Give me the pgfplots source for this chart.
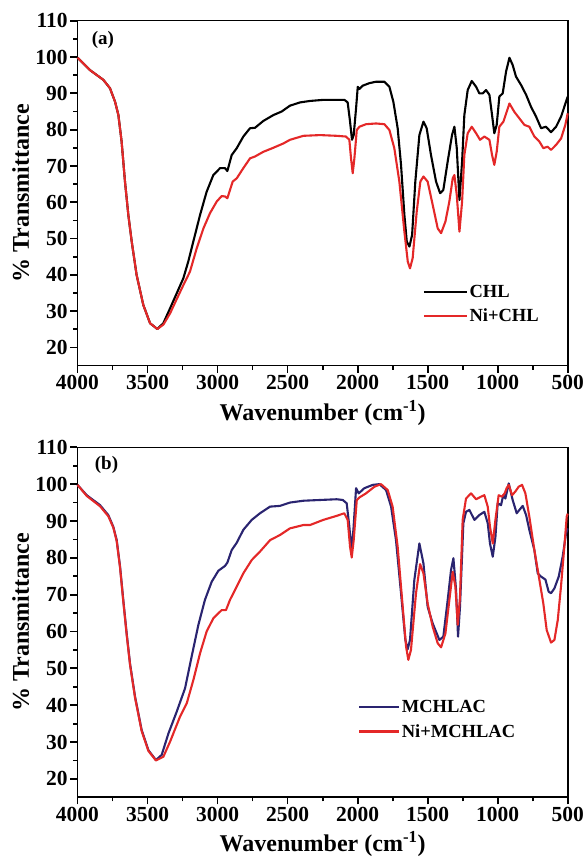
\documentclass[border=0pt]{standalone}
\usepackage{fontspec}
\setmainfont{Liberation Serif}
\usepackage{pgfplots}
\pgfplotsset{compat=1.18}
\definecolor{myred}{RGB}{228,40,40}
\definecolor{myblue}{RGB}{42,36,112}
\pgfplotsset{
  ftir/.style={
    anchor=north west,
    scale only axis,
    width=490.2pt,
    clip=false,
    xmin=-4000, xmax=-500,
    ymin=15, ymax=110,
    xtick={-4000,-3500,...,-500},
    xticklabels={4000,3500,3000,2500,2000,1500,1000,500},
    ytick={20,30,...,110},
    yticklabels={20,30,40,50,60,70,80,90,100,110},
    minor x tick num=1,
    minor y tick num=1,
    tick align=outside,
    xtick pos=bottom,
    ytick pos=left,
    major tick length=7pt,
    minor tick length=4pt,
    every tick/.append style={black, line width=1.8pt},
    every axis/.append style={line width=1.6pt},
    tick label style={font=\bfseries\fontsize{21.5}{21.5}\selectfont, inner sep=2pt},
    label style={font=\bfseries\fontsize{24}{24}\selectfont},
    xlabel style={yshift=-4pt},
    xlabel={Wavenumber (cm\textsuperscript{-1})},
    ylabel={\% Transmittance},
    legend cell align=left,
    legend style={draw=none, fill=none, inner sep=0pt,
      font=\bfseries\fontsize{18.5}{18.5}\selectfont,
      row sep=7pt, anchor=north west,
      nodes={inner sep=1.5pt}},
    every axis plot/.append style={line width=2.1pt, no markers, line join=round},
  }
}
\begin{document}
\begin{tikzpicture}
\begin{axis}[ftir, name=A, at={(0pt,0pt)}, height=345pt,
  legend style={at={(rel axis cs:0.703,0.24)}},
  legend image code/.code={\draw[#1, line width=2.1pt] (0pt,0pt) -- (43pt,0pt);}]
\addplot[black] coordinates {
(-4000,99.8) (-3911,96.4) (-3815,93.7) (-3768,91.4) (-3732,87.7) (-3708,84.0) (-3685,76.7)
(-3661,65.7) (-3637,56.5) (-3613,49.2) (-3578,40.0) (-3530,31.7) (-3482,26.7) (-3430,25.1)
(-3387,26.7) (-3339,30.8) (-3292,34.9) (-3244,39.1) (-3209,43.7) (-3173,49.2) (-3125,56.5)
(-3078,62.9) (-3030,67.5) (-2982,69.4) (-2947,69.4) (-2930,68.6) (-2899,73.0) (-2863,74.9)
(-2816,78.1) (-2768,80.4) (-2733,80.5) (-2673,82.4) (-2602,84.0) (-2542,85.0) (-2483,86.6)
(-2411,87.5) (-2340,87.9) (-2245,88.2) (-2149,88.2) (-2094,88.2) (-2071,87.5) (-2054,82.2)
(-2040,77.2) (-2028,78.5) (-2011,85.9) (-1999,91.8) (-1987,91.2) (-1964,92.1) (-1916,92.8)
(-1868,93.2) (-1809,93.2) (-1773,91.8) (-1745,87.7) (-1714,80.4) (-1690,70.3) (-1666,56.5)
(-1649,49.2) (-1630,47.8) (-1611,51.0) (-1588,65.7) (-1559,78.5) (-1530,82.2) (-1507,80.4)
(-1476,73.0) (-1440,65.7) (-1411,62.5) (-1388,63.4) (-1357,71.2) (-1326,78.5) (-1309,80.8)
(-1292,74.9) (-1273,60.6) (-1254,71.2) (-1238,84.0) (-1214,90.9) (-1185,93.4) (-1154,91.8)
(-1131,90.0) (-1107,90.0) (-1083,90.9) (-1059,89.6) (-1040,84.0) (-1024,79.0) (-1007,81.3)
(-988,89.1) (-964,90.0) (-940,96.0) (-916,99.8) (-893,97.8) (-869,94.6) (-833,92.3)
(-797,89.6) (-762,86.3) (-726,83.6) (-690,80.4) (-655,80.8) (-619,79.3) (-583,80.8)
(-547,83.6) (-512,87.7) (-500,89.1)
};
\addlegendentry{CHL}
\addplot[myred] coordinates {
(-4000,99.8) (-3911,96.4) (-3815,93.7) (-3768,91.4) (-3732,87.7) (-3708,84.0) (-3685,76.7)
(-3661,65.7) (-3637,56.5) (-3613,49.2) (-3578,40.0) (-3530,31.7) (-3482,26.7) (-3430,25.1)
(-3387,26.3) (-3339,29.4) (-3292,33.3) (-3244,37.2) (-3197,40.9) (-3149,47.3) (-3101,52.8)
(-3054,57.0) (-3006,60.2) (-2971,61.7) (-2947,61.6) (-2930,61.1) (-2892,65.7) (-2863,66.6)
(-2816,69.4) (-2768,72.1) (-2733,72.6) (-2673,73.9) (-2602,75.0) (-2530,76.2) (-2483,77.2)
(-2387,78.3) (-2268,78.5) (-2149,78.3) (-2083,78.1) (-2059,77.2) (-2047,72.1) (-2035,68.0)
(-2023,72.1) (-2006,79.9) (-1987,80.8) (-1940,81.5) (-1868,81.7) (-1809,81.5) (-1773,79.9)
(-1738,74.9) (-1702,65.7) (-1666,51.9) (-1642,43.7) (-1626,41.8) (-1607,44.6) (-1578,57.4)
(-1552,65.7) (-1530,67.1) (-1500,65.7) (-1464,59.3) (-1428,52.8) (-1404,51.5) (-1373,54.7)
(-1345,60.2) (-1321,66.6) (-1309,67.5) (-1292,62.0) (-1273,51.9) (-1254,60.2) (-1238,73.0)
(-1214,79.0) (-1185,80.8) (-1154,79.0) (-1126,77.2) (-1095,78.1) (-1059,77.2) (-1040,73.0)
(-1024,70.3) (-1007,73.9) (-988,80.8) (-959,82.2) (-916,87.2) (-881,84.9) (-845,83.1)
(-809,81.3) (-774,80.8) (-738,78.1) (-702,76.7) (-674,74.9) (-643,75.3) (-619,74.4)
(-583,75.8) (-547,77.6) (-517,81.3) (-500,84.5)
};
\addlegendentry{Ni+CHL}
\node[font=\bfseries\fontsize{19}{19}\selectfont] at (axis cs:-3818,104.7) {(a)};
\end{axis}

\begin{axis}[ftir, name=B, at={(0pt,-426.6pt)}, height=350pt,
  legend style={at={(rel axis cs:0.571,0.283)}},
  legend image code/.code={\draw[#1, line width=2.1pt] (0pt,0pt) -- (40pt,0pt);}]
\addplot[myblue] coordinates {
(-4000,99.8) (-3934,97.0) (-3839,94.3) (-3780,91.6) (-3744,88.4) (-3720,84.8) (-3696,77.6)
(-3673,68.5) (-3649,59.5) (-3625,51.3) (-3589,42.3) (-3542,33.3) (-3494,27.8) (-3440,25.1)
(-3399,26.5) (-3351,32.3) (-3292,38.2) (-3232,44.6) (-3185,53.2) (-3137,61.8) (-3090,68.6)
(-3042,73.5) (-2994,76.5) (-2947,77.8) (-2930,78.7) (-2899,82.1) (-2863,84.1) (-2816,87.6)
(-2756,90.3) (-2697,92.1) (-2625,93.9) (-2554,94.1) (-2483,95.0) (-2387,95.5) (-2269,95.7)
(-2149,95.9) (-2106,95.7) (-2078,94.8) (-2059,88.5) (-2045,82.1) (-2030,87.6) (-2011,98.9)
(-1992,97.5) (-1952,98.9) (-1892,99.8) (-1845,100.0) (-1797,98.4) (-1761,93.9) (-1726,84.8)
(-1690,70.4) (-1659,57.7) (-1642,55.2) (-1626,57.7) (-1595,74.0) (-1559,83.9) (-1530,78.5)
(-1500,66.7) (-1464,62.2) (-1416,57.7) (-1388,58.6) (-1357,68.5) (-1333,76.7) (-1316,79.9)
(-1297,71.3) (-1283,58.6) (-1269,66.7) (-1245,89.4) (-1226,92.5) (-1202,93.0) (-1166,90.3)
(-1131,91.6) (-1095,92.5) (-1071,89.4) (-1055,83.9) (-1035,80.3) (-1016,85.7) (-1000,94.8)
(-976,94.3) (-960,97.0) (-945,96.1) (-921,100.2) (-893,95.7) (-864,92.1) (-845,93.0)
(-821,94.1) (-797,91.6) (-774,87.6) (-738,82.1) (-714,75.8) (-690,74.9) (-659,74.1)
(-636,70.8) (-619,70.4) (-595,71.7) (-564,74.9) (-536,80.3) (-512,86.6) (-500,88.0)
};
\addlegendentry{MCHLAC}
\addplot[myred] coordinates {
(-4000,99.8) (-3934,96.8) (-3839,94.0) (-3780,91.3) (-3744,88.2) (-3720,84.5) (-3696,77.3)
(-3673,68.2) (-3649,59.2) (-3625,51.0) (-3589,42.0) (-3542,33.0) (-3494,27.6) (-3440,25.0)
(-3387,26.0) (-3339,30.1) (-3268,36.9) (-3220,40.5) (-3173,46.8) (-3125,54.1) (-3078,60.0)
(-3030,63.6) (-2971,65.8) (-2940,65.8) (-2911,68.6) (-2863,72.2) (-2816,75.8) (-2756,79.4)
(-2697,81.7) (-2625,84.8) (-2554,86.2) (-2483,88.0) (-2387,88.9) (-2340,88.9) (-2245,90.3)
(-2149,91.4) (-2095,92.1) (-2071,90.3) (-2054,83.0) (-2042,80.1) (-2028,84.8) (-2006,95.7)
(-1987,96.4) (-1940,97.5) (-1880,99.3) (-1833,100.0) (-1785,98.4) (-1750,93.9) (-1714,83.0)
(-1678,66.7) (-1654,55.9) (-1638,52.3) (-1619,55.0) (-1583,70.4) (-1554,78.3) (-1530,75.8)
(-1500,67.6) (-1464,61.3) (-1428,56.8) (-1404,55.7) (-1373,59.5) (-1345,68.5) (-1321,76.2)
(-1302,72.2) (-1285,61.8) (-1269,69.4) (-1250,90.3) (-1226,96.1) (-1190,97.5) (-1154,95.9)
(-1119,96.6) (-1095,97.0) (-1071,93.9) (-1055,88.5) (-1035,83.9) (-1016,90.3) (-993,97.0)
(-969,96.6) (-950,97.5) (-936,98.9) (-921,99.8) (-897,97.0) (-874,98.0) (-850,99.3)
(-826,99.8) (-802,97.5) (-774,91.2) (-738,82.1) (-702,74.0) (-674,67.6) (-650,60.4)
(-619,57.0) (-595,57.7) (-571,63.1) (-548,72.2) (-524,83.0) (-507,91.2) (-500,92.0)
};
\addlegendentry{Ni+MCHLAC}
\node[font=\bfseries\fontsize{19}{19}\selectfont] at (axis cs:-3793,105.1) {(b)};
\end{axis}
\path (A.north west) ++(-77.5pt,20.7pt) coordinate (tl);
\path (A.north west) ++(508.5pt,-840.3pt) coordinate (br);
\path (tl) rectangle (br);
\end{tikzpicture}
\end{document}
